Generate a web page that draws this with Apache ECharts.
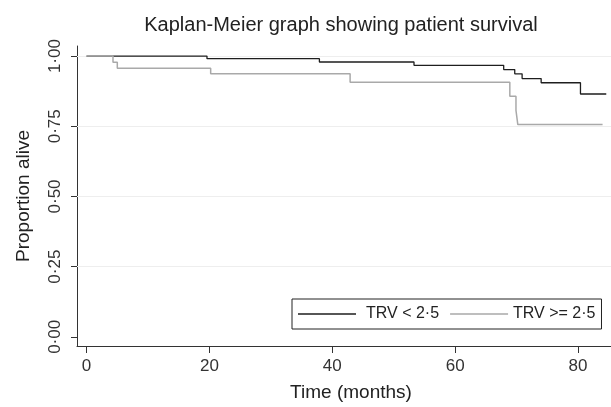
<!DOCTYPE html>
<html>
<head>
<meta charset="utf-8">
<script src="https://cdn.jsdelivr.net/npm/echarts@6/dist/echarts.min.js"></script>
<style>
html,body{margin:0;padding:0;background:#fff;}
#chart{width:611px;height:407px;}
</style>
</head>
<body>
<div id="chart"></div>
<script>
// Data
const lowTimes = [0, 19.6, 37.9, 53.3, 67.9, 69.7, 70.9, 74.0, 80.4, 84.6];
const lowSurv  = [1, 0.991, 0.979, 0.967, 0.952, 0.937, 0.920, 0.905, 0.865, 0.865];
const highTimes = [0, 4.3, 5.0, 20.2, 42.9, 68.9, 69.9, 70.2, 84.0];
const highSurv  = [1, 0.978, 0.957, 0.937, 0.907, 0.857, 0.807, 0.756, 0.756];
const xTicks = [0, 20, 40, 60, 80];
const yTicks = [0, 0.25, 0.5, 0.75, 1];
const gridValues = [0.25, 0.5, 0.75, 1];
const seriesNames = ['TRV < 2·5', 'TRV >= 2·5'];

const pairs = (xs, ys) => xs.map((x, i) => [x, ys[i]]);
const FONT = '"Liberation Sans", Arial, Helvetica, sans-serif';

const chart = echarts.init(document.getElementById('chart'));
chart.setOption({
  animation: false,
  backgroundColor: '#ffffff',
  textStyle: { fontFamily: FONT },
  title: {
    text: 'Kaplan-Meier graph showing patient survival',
    left: 341, top: 15, textAlign: 'center', padding: 0,
    textStyle: { fontFamily: FONT, fontSize: 20, fontWeight: 'normal', color: '#222' }
  },
  grid: { left: 77, right: 0, top: 46, bottom: 57, containLabel: false },
  legend: {
    left: 292, top: 299,
    orient: 'horizontal',
    borderColor: '#222', borderWidth: 1,
    padding: [7, 6, 7, 6],
    itemGap: 11, itemWidth: 58, itemHeight: 1.4,
    icon: 'rect',
    itemStyle: { borderWidth: 0 },
    data: [
      { name: seriesNames[0], textStyle: { padding: [0, 0, 0, 5] } },
      { name: seriesNames[1] }
    ],
    textStyle: { fontFamily: FONT, fontSize: 16, color: '#222' }
  },
  xAxis: {
    type: 'value', min: -1.56, max: 85.37,
    name: 'Time (months)', nameLocation: 'middle', nameGap: 37,
    nameTextStyle: { fontFamily: FONT, fontSize: 19, color: '#222', padding: [0, 0, 0, 14] },
    axisLine: { show: true, onZero: false, lineStyle: { color: '#333', width: 1 } },
    axisTick: { show: true, length: 7, customValues: xTicks, lineStyle: { color: '#333' } },
    axisLabel: { customValues: xTicks, margin: 12, fontSize: 17, color: '#333', fontFamily: FONT },
    splitLine: { show: false }
  },
  yAxis: {
    type: 'value', min: -0.0327, max: 1.036,
    name: 'Proportion alive', nameLocation: 'middle', nameGap: 44,
    nameTextStyle: { fontFamily: FONT, fontSize: 19, color: '#222' },
    axisLine: { show: true, onZero: false, lineStyle: { color: '#333', width: 1 } },
    axisTick: { show: true, length: 6, customValues: yTicks, lineStyle: { color: '#333' } },
    axisLabel: {
      customValues: yTicks, rotate: 90, margin: 13, fontSize: 17, color: '#333', fontFamily: FONT,
      formatter: v => v.toFixed(2).replace('.', '·')
    },
    splitLine: { show: false }
  },
  series: [
    {
      name: seriesNames[0], type: 'line', step: 'end', symbol: 'none',
      data: pairs(lowTimes, lowSurv),
      lineStyle: { color: '#1e1e1e', width: 1.3 },
      itemStyle: { color: '#1e1e1e' },
      z: 3,
      markLine: {
        silent: true, symbol: 'none', animation: false,
        label: { show: false },
        lineStyle: { color: '#eeeeee', width: 1, type: 'solid' },
        data: gridValues.map(v => ({ yAxis: v })),
        z: 1
      }
    },
    {
      name: seriesNames[1], type: 'line', step: 'end', symbol: 'none',
      data: pairs(highTimes, highSurv),
      lineStyle: { color: '#a9a9a9', width: 1.5 },
      itemStyle: { color: '#a9a9a9' },
      z: 4
    }
  ]
});
</script>
</body>
</html>
